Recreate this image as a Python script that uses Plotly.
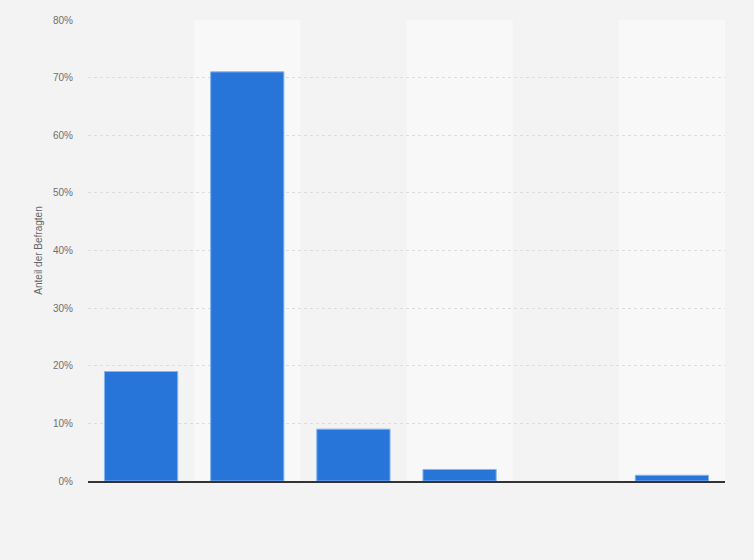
import plotly.graph_objs as go

categories = ["A", "B", "C", "D", "E", "F"]
values = [19, 71, 9, 2, 0, 1]
y_ticks = [0, 10, 20, 30, 40, 50, 60, 70, 80]
y_labels = ["0%", "10%", "20%", "30%", "40%", "50%", "60%", "70%", "80%"]

# thin light border on bars, none on empty bars
border = [0 if v == 0 else 1 for v in values]

trace = go.Bar(
    x=categories,
    y=values,
    marker=dict(color="#2875d9", line=dict(color="#86b4ef", width=border)),
    hoverinfo="y",
)

# lighter background band behind every second column
bands = []
for i in range(len(categories)):
    if i % 2 == 1:
        bands.append(dict(
            type="rect", xref="x", yref="paper",
            x0=i - 0.5, x1=i + 0.5, y0=0, y1=1,
            fillcolor="#f8f8f8", line=dict(width=0), layer="below",
        ))

fig = go.Figure(data=[trace])
fig.update_layout(
    width=754,
    height=560,
    paper_bgcolor="#f3f3f3",
    plot_bgcolor="#f3f3f3",
    margin=dict(l=88, r=29, t=20, b=79),
    bargap=0.31,
    showlegend=False,
    shapes=bands,
    font=dict(family="Arial, Liberation Sans, sans-serif", color="#707070", size=10),
)
fig.update_xaxes(
    showticklabels=False,
    showgrid=False,
    showline=True,
    linecolor="#333333",
    linewidth=1.5,
    range=[-0.5, 5.5],
)
fig.update_yaxes(
    range=[0, 80],
    tickvals=y_ticks,
    ticktext=y_labels,
    showgrid=True,
    gridcolor="#dddddd",
    griddash="dot",
    gridwidth=1,
    zeroline=False,
    ticks="",
    ticklabelstandoff=14,
    title=dict(text="Anteil der Befragten", font=dict(size=10, color="#666666"), standoff=8),
)

fig.write_html("out.html", config={"displayModeBar": False},
               post_script="document.body.style.margin='0';")
